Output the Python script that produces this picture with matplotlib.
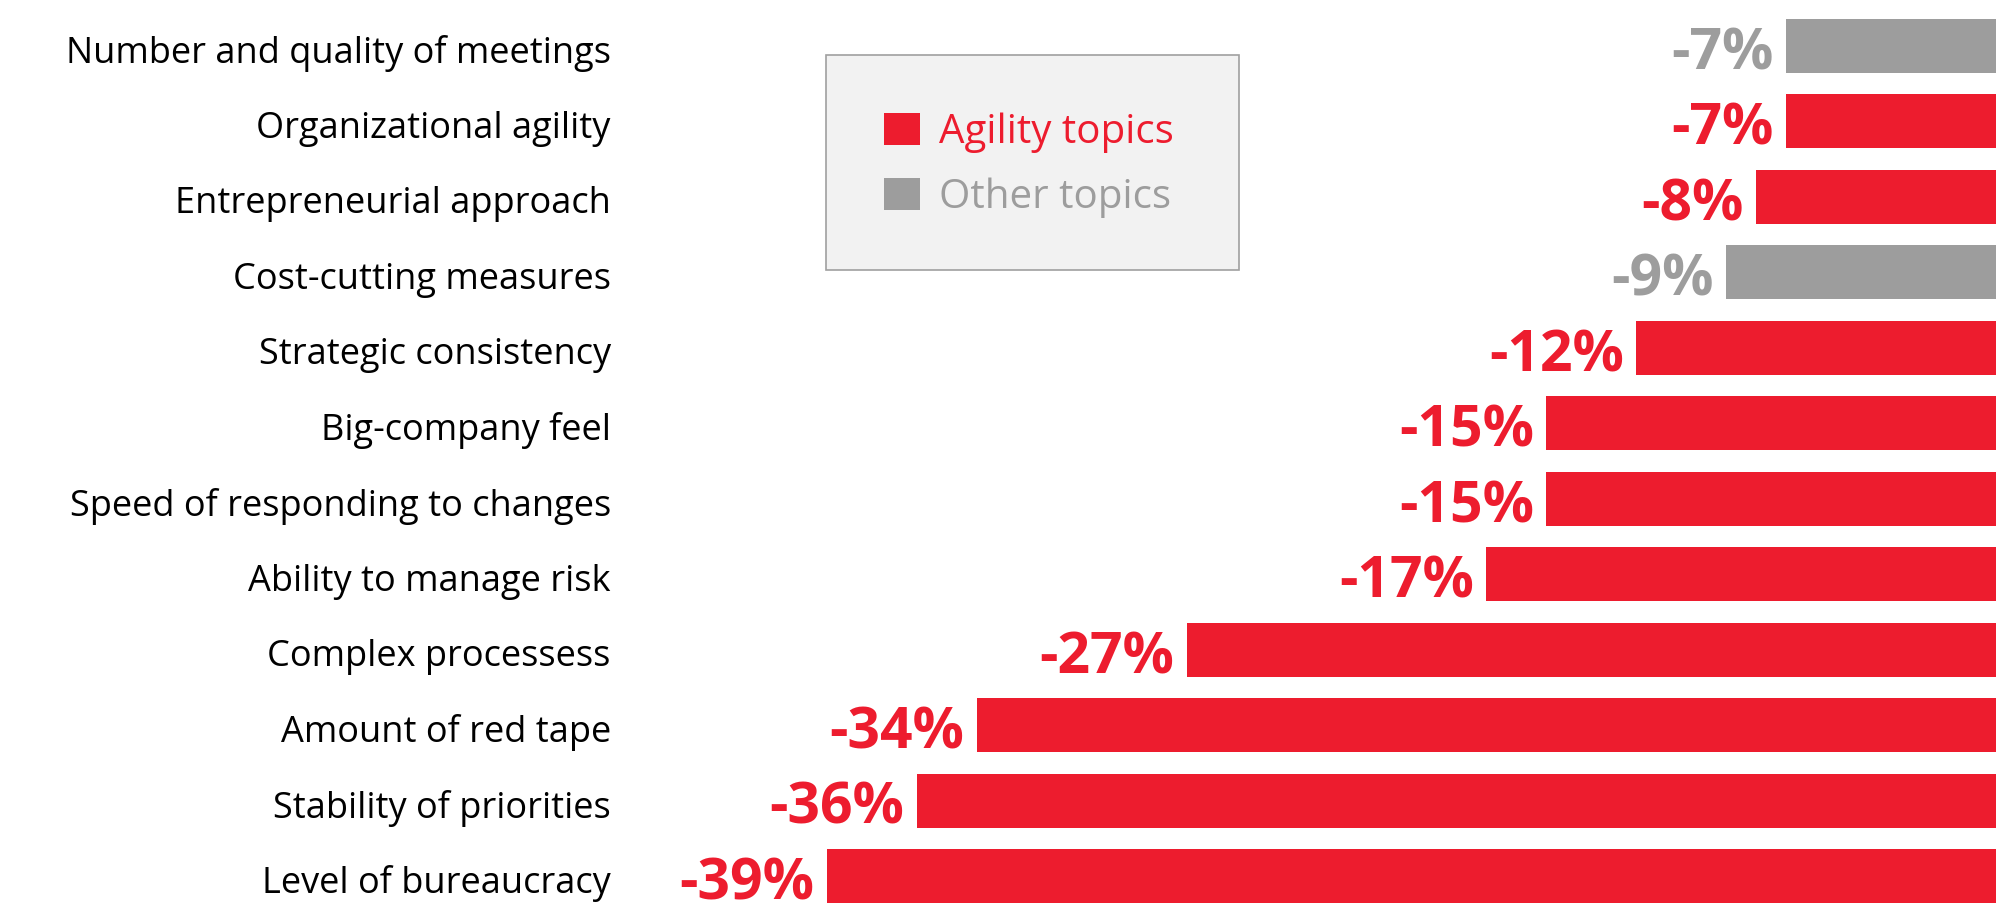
import matplotlib
matplotlib.use("Agg")
import matplotlib.pyplot as plt
import matplotlib.transforms as mtransforms
from matplotlib.patches import Rectangle

# data, top to bottom
topics = ["Number and quality of meetings", "Organizational agility", "Entrepreneurial approach",
          "Cost-cutting measures", "Strategic consistency", "Big-company feel",
          "Speed of responding to changes", "Ability to manage risk", "Complex processess",
          "Amount of red tape", "Stability of priorities", "Level of bureaucracy"]
values = [-7, -7, -8, -9, -12, -15, -15, -17, -27, -34, -36, -39]
is_agility = [False, True, True, False, True, True, True, True, True, True, True, True]

RED = "#ED1C2E"
GREY = "#9D9D9D"
W, H = 2000, 910

plt.rcParams["font.family"] = ["Open Sans", "DejaVu Sans"]

fig = plt.figure(figsize=(W / 100, H / 100), dpi=100)
ax = fig.add_axes([640 / W, 0, (1996 - 640) / W, 1])

colors = [RED if a else GREY for a in is_agility]
ypos = list(range(len(topics)))
ax.barh(ypos, values, height=0.716, color=colors)

ax.set_xlim(-39 - (827 - 640) / 29.97, 0)
ax.set_ylim(11.45, -0.61)

for y, v, c in zip(ypos, values, colors):
    ax.annotate(f"{v}%", xy=(v, y), xytext=(-9, -1), textcoords="offset points",
                ha="right", va="center_baseline", color=c, fontsize=41, fontweight="bold")

ax.set_yticks(ypos)
ax.set_yticklabels(topics, fontsize=26)
ax.tick_params(axis="y", length=0, pad=21)
shift = mtransforms.ScaledTranslation(0, -3 / 100, fig.dpi_scale_trans)
for lab in ax.get_yticklabels():
    lab.set_transform(lab.get_transform() + shift)
ax.set_xticks([])
for s in ax.spines.values():
    s.set_visible(False)

# legend box
fig.add_artist(Rectangle((826 / W, 1 - 270 / H), (1239 - 826) / W, (270 - 55) / H,
                         transform=fig.transFigure, facecolor="#F2F2F2", edgecolor="#A0A0A0", lw=1.2))
for (label, col, top) in [("Agility topics", RED, 113), ("Other topics", GREY, 178)]:
    fig.add_artist(Rectangle((884 / W, 1 - (top + 32) / H), 36 / W, 32 / H,
                             transform=fig.transFigure, facecolor=col, edgecolor="none"))
    fig.text(939 / W, 1 - (top + 20) / H, label, color=col, fontsize=29,
             va="center", ha="left")

fig.savefig("out.png", dpi=100)
